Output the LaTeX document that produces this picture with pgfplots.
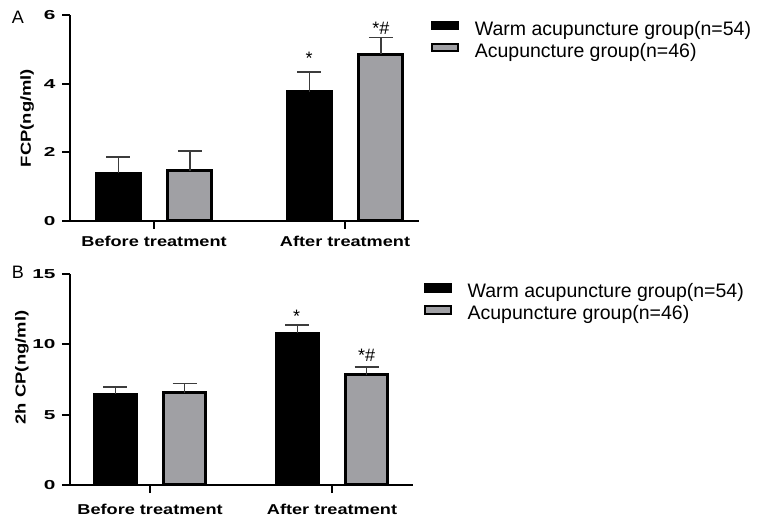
\documentclass[border=0pt]{standalone}
\usepackage{fontspec}
\setmainfont{Liberation Sans}
\newfontfamily\labfont[FakeStretch=1.27]{Liberation Sans}
\newfontfamily\tickfont[FakeStretch=1.6]{Liberation Sans}
\usepackage{pgfplots}
\pgfplotsset{compat=1.18}
\definecolor{barGrey}{RGB}{160,160,164}
\definecolor{errGrey}{RGB}{60,60,60}
\pgfplotsset{
  panel/.style={
    scale only axis,
    axis lines=left,
    axis line style={line width=2.5pt,-},
    ymin=0,
    xtick={0,1},
    xticklabels={Before treatment,After treatment},
    tick align=outside,
    major tick length=8pt,
    tick style={line width=2pt,black},
    yticklabel style={font=\tickfont\bfseries\fontsize{13}{14}\selectfont, xshift=-3pt},
    xticklabel style={font=\labfont\bfseries\fontsize{14.3}{16}\selectfont},
    ylabel style={font=\labfont\bfseries\fontsize{14.5}{16}\selectfont, anchor=center},
    /pgf/number format/assume math mode=true,
    ybar,
    clip=false,
    legend cell align=left,
    legend style={draw=none, fill=none, inner sep=0pt, outer sep=0pt,
      font=\fontsize{19.5}{21}\selectfont, row sep=6pt,
      nodes={inner sep=0pt},
      /tikz/every odd column/.append style={column sep=16pt}},
    legend image code/.code={\draw[line width=2pt] (0pt,0.35em-3.6pt) rectangle (26pt,0.35em+3.6pt);},
  },
  blackbar/.style={fill=black, draw=black, line width=3pt,
    error bars/.cd, y dir=plus, y explicit,
    error bar style={line width=1.5pt, draw=errGrey},
    error mark options={rotate=90, line width=1.5pt, mark size=12pt, draw=errGrey}},
  greybar/.style={fill=barGrey, draw=black, line width=3pt,
    error bars/.cd, y dir=plus, y explicit,
    error bar style={line width=1.5pt, draw=errGrey},
    error mark options={rotate=90, line width=1.5pt, mark size=12pt, draw=errGrey}},
}
\begin{document}
\begin{tikzpicture}
\path (0pt,0pt) rectangle (757pt,516pt);
% Panel A
\begin{axis}[panel,
  at={(70pt,295pt)}, anchor=south west,
  width=349pt, height=206pt,
  xmin=-0.44, xmax=1.387, ymax=6, ytick={0,2,4,6},
  bar width=0.232,
  xticklabel style={yshift=-4pt},
  ylabel={FCP(ng/ml)},
  ylabel style={at={(axis description cs:-0.123,0.5)}},
  legend style={at={(axis description cs:1.034,0.97)}, anchor=north west},
]
\addplot[bar shift=-0.187, blackbar] coordinates {(0,1.39) +- (0,0.47) (1,3.76) +- (0,0.58)};
\addplot[bar shift=0.187, greybar] coordinates {(0,1.46) +- (0,0.58) (1,4.86) +- (0,0.48)};
\legend{Warm acupuncture group(n=54), Acupuncture group(n=46)}
\node[anchor=base, font=\fontsize{18}{20}\selectfont] at (axis cs:0.812,4.55) {*};
\node[anchor=base, font=\fontsize{18}{20}\selectfont] at (axis cs:1.188,5.42) {*\#};
\end{axis}
% Panel B
\begin{axis}[panel,
  at={(70pt,31pt)}, anchor=south west,
  width=343pt, height=211pt,
  xmin=-0.44, xmax=1.445, ymax=15, ytick={0,5,10,15},
  bar width=0.231,
  xticklabel style={yshift=-8pt},
  ylabel={2h CP(ng/ml)},
  ylabel style={at={(axis description cs:-0.14,0.557)}},
  legend style={at={(axis description cs:1.031,0.955)}, anchor=north west},
]
\addplot[bar shift=-0.19, blackbar] coordinates {(0,6.46) +- (0,0.52) (1,10.77) +- (0,0.61)};
\addplot[bar shift=0.19, greybar] coordinates {(0,6.56) +- (0,0.65) (1,7.84) +- (0,0.54)};
\legend{Warm acupuncture group(n=54), Acupuncture group(n=46)}
\node[anchor=base, font=\fontsize{18}{20}\selectfont] at (axis cs:0.806,11.57) {*};
\node[anchor=base, font=\fontsize{18}{20}\selectfont] at (axis cs:1.19,8.81) {*\#};
\end{axis}
\node[font=\fontsize{18}{20}\selectfont] at (18pt,499pt) {A};
\node[font=\fontsize{18}{20}\selectfont] at (18pt,244pt) {B};
\end{tikzpicture}
\end{document}
